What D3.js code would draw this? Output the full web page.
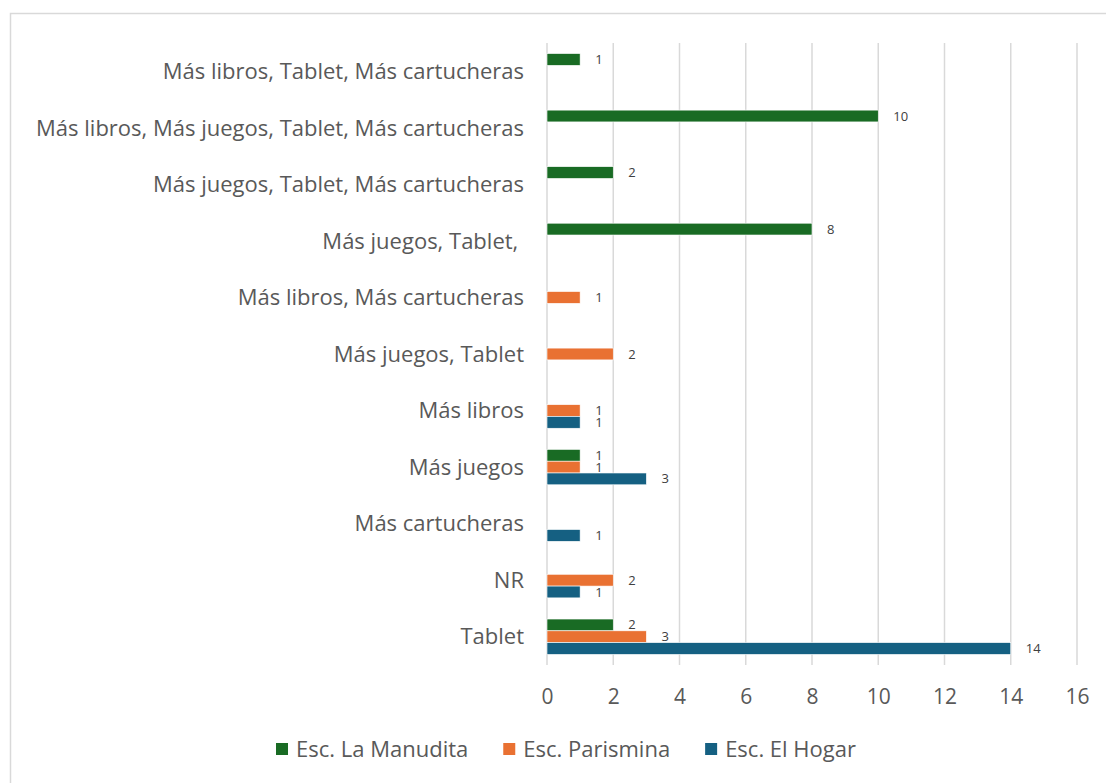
<!DOCTYPE html>
<html>
<head>
<meta charset="utf-8">
<script src="https://cdn.jsdelivr.net/npm/d3@7"></script>
<style>
  html, body { margin: 0; padding: 0; background: #fff; }
  svg { display: block; }
  text { font-family: "Open Sans", "Noto Sans", sans-serif; }
</style>
</head>
<body>
<svg id="chart" width="1106" height="783"></svg>
<script>
// Categories, top to bottom as shown
const categories = [
  "Más libros, Tablet, Más cartucheras",
  "Más libros, Más juegos, Tablet, Más cartucheras",
  "Más juegos, Tablet, Más cartucheras",
  "Más juegos, Tablet, ",
  "Más libros, Más cartucheras",
  "Más juegos, Tablet",
  "Más libros",
  "Más juegos",
  "Más cartucheras",
  "NR",
  "Tablet"
];
const seriesNames = ["Esc. La Manudita", "Esc. Parismina", "Esc. El Hogar"];
const seriesColors = ["#196B24", "#E97132", "#156082"];
const laManudita = [1, 10, 2, 8, null, null, null, 1, null, null, 2];
const parismina  = [null, null, null, null, 1, 2, 1, 1, null, 2, 3];
const elHogar    = [null, null, null, null, null, null, 1, 3, 1, 1, 14];
const xTicks = [0, 2, 4, 6, 8, 10, 12, 14, 16];

const seriesValues = [laManudita, parismina, elHogar];

const svg = d3.select("#chart");

// outer border (open on right/bottom like the reference crop)
svg.append("rect")
  .attr("x", 10.5).attr("y", 13.5)
  .attr("width", 1120).attr("height", 800)
  .attr("fill", "none").attr("stroke", "#d9d9d9").attr("stroke-width", 1.5);

const x = d3.scaleLinear().domain([0, 16]).range([547, 1077]);
const y = d3.scaleBand().domain(categories).range([43, 665]).padding(0);
const groupH = y.bandwidth() * 0.626;
const ySub = d3.scaleBand().domain(seriesNames).range([0, groupH]).padding(0);

// gridlines
svg.append("g").selectAll("line").data(xTicks).join("line")
  .attr("x1", d => x(d)).attr("x2", d => x(d))
  .attr("y1", 43).attr("y2", 665)
  .attr("stroke", "#d9d9d9").attr("stroke-width", 1.5);

// x tick labels
const xAxis = d3.axisBottom(x).tickValues(xTicks).tickSize(0).tickPadding(0).tickFormat(d3.format("d"));
const gx = svg.append("g").attr("transform", "translate(0,697)").call(xAxis);
gx.select(".domain").remove();
gx.selectAll("text")
  .attr("dy", "0.35em").attr("y", 0)
  .attr("font-size", 21).attr("fill", "#595959")
  .style("font-family", "'Open Sans', sans-serif");

// y category labels
const yAxis = d3.axisLeft(y).tickSize(0).tickPadding(0);
const gy = svg.append("g").attr("transform", "translate(524,0)").call(yAxis);
gy.select(".domain").remove();
gy.selectAll("text")
  .attr("x", 0).attr("dy", "0.35em")
  .attr("font-size", 22).attr("fill", "#595959")
  .style("font-family", "'Open Sans', sans-serif")
  .attr("text-anchor", "end")
  .style("white-space", "pre");

// bars
const barData = [];
categories.forEach((c, i) => {
  seriesNames.forEach((s, j) => {
    const v = seriesValues[j][i];
    if (v != null) barData.push({ cat: c, series: s, value: v, color: seriesColors[j] });
  });
});

svg.append("g").selectAll("rect").data(barData).join("rect")
  .attr("x", x(0))
  .attr("y", d => y(d.cat) + (y.bandwidth() - groupH) / 2 + ySub(d.series))
  .attr("width", d => x(d.value) - x(0))
  .attr("height", ySub.bandwidth())
  .attr("fill", d => d.color)
  .attr("stroke", "#ffffff").attr("stroke-width", 0.6);

// data labels
svg.append("g").selectAll("text").data(barData).join("text")
  .attr("x", d => x(d.value) + 15)
  .attr("y", d => y(d.cat) + (y.bandwidth() - groupH) / 2 + ySub(d.series) + ySub.bandwidth() / 2)
  .attr("dy", "0.35em")
  .attr("font-size", 13).attr("fill", "#404040")
  .text(d => d.value);

// legend
const legend = svg.append("g");
const items = legend.selectAll("g").data(seriesNames).join("g");
items.append("rect")
  .attr("width", 12).attr("height", 12)
  .attr("y", -6)
  .attr("fill", (d, i) => seriesColors[i]);
items.append("text")
  .attr("x", 20).attr("dy", "0.35em")
  .attr("font-size", 22).attr("fill", "#595959")
  .text(d => d);
const widths = [];
items.each(function() {
  widths.push(d3.select(this).select("text").node().getComputedTextLength() + 20);
});
const gap = 35;
const total = d3.sum(widths) + gap * (widths.length - 1);
let start = 566 - total / 2;
items.attr("transform", (d, i) => {
  const t = `translate(${start},749)`;
  start += widths[i] + gap;
  return t;
});
</script>
</body>
</html>
